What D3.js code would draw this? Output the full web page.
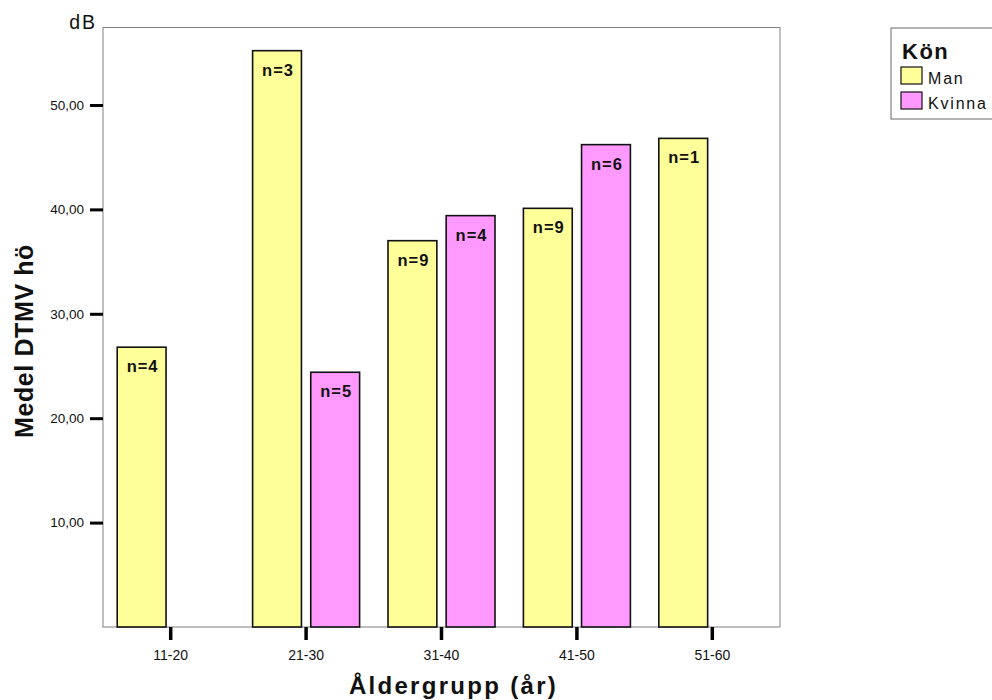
<!DOCTYPE html>
<html>
<head>
<meta charset="utf-8">
<script src="https://cdn.jsdelivr.net/npm/d3@7"></script>
<style>
  html, body { margin: 0; padding: 0; background: #fff; }
  svg { display: block; font-family: Arial, "Liberation Sans", sans-serif; }
</style>
</head>
<body>
<svg id="chart" width="992" height="700"></svg>
<script>
const categories = ["11-20", "21-30", "31-40", "41-50", "51-60"];
const seriesNames = ["Man", "Kvinna"];
const manValues = [26.8, 55.2, 37.0, 40.1, 46.8];
const kvinnaValues = [null, 24.4, 39.4, 46.2, null];
const manN = [4, 3, 9, 9, 1];
const kvinnaN = [null, 5, 4, 6, null];
const yTicks = [10, 20, 30, 40, 50];
const yTickLabels = ["10,00", "20,00", "30,00", "40,00", "50,00"];
const colors = ["#FFFF99", "#FF99FF"];

const svg = d3.select("#chart");
const plot = { left: 103, right: 780, top: 27.5, bottom: 627 };

const x = d3.scaleBand().domain(categories).range([plot.left, plot.right]).padding(0);
const xs = d3.scaleBand().domain(seriesNames).range([-53.5, 53.5]).paddingInner(0.16);
const y = d3.scaleLinear().domain([0, 57.42]).range([plot.bottom, plot.top]);

// plot frame
svg.append("rect")
  .attr("x", plot.left).attr("y", plot.top)
  .attr("width", plot.right - plot.left).attr("height", plot.bottom - plot.top)
  .attr("fill", "none").attr("stroke", "#808080").attr("stroke-width", 1);

// bars
const rows = [];
categories.forEach((c, i) => {
  [manValues[i], kvinnaValues[i]].forEach((v, j) => {
    if (v != null) rows.push({ cat: c, ser: seriesNames[j], v, n: j === 0 ? manN[i] : kvinnaN[i], color: colors[j] });
  });
});

const g = svg.append("g");
g.selectAll("rect.bar").data(rows).enter().append("rect")
  .attr("class", "bar")
  .attr("x", d => x(d.cat) + x.bandwidth() / 2 + xs(d.ser))
  .attr("y", d => y(d.v))
  .attr("width", xs.bandwidth())
  .attr("height", d => y(0) - y(d.v))
  .attr("fill", d => d.color)
  .attr("stroke", "#111").attr("stroke-width", 1.6);

g.selectAll("text.nlab").data(rows).enter().append("text")
  .attr("class", "nlab")
  .attr("x", d => x(d.cat) + x.bandwidth() / 2 + xs(d.ser) + xs.bandwidth() / 2 + 1)
  .attr("y", d => y(d.v) + 25)
  .attr("text-anchor", "middle")
  .attr("font-size", 16.5).attr("font-weight", "bold")
  .attr("letter-spacing", 1)
  .attr("fill", "#111")
  .text(d => "n=" + d.n);

// y axis
const yAxis = d3.axisLeft(y).tickValues(yTicks)
  .tickFormat((d, i) => yTickLabels[i]).tickSize(13).tickPadding(6);
const ya = svg.append("g").attr("transform", `translate(${plot.left},0)`).call(yAxis);
ya.select(".domain").remove();
ya.selectAll(".tick line").attr("stroke", "#000").attr("stroke-width", 3);
ya.selectAll(".tick text").attr("font-size", 13.5).attr("fill", "#111")
  .attr("font-family", "Arial, 'Liberation Sans', sans-serif");

// x axis
const xAxis = d3.axisBottom(x).tickSize(13).tickPadding(10);
const xa = svg.append("g").attr("transform", `translate(0,${plot.bottom})`).call(xAxis);
xa.select(".domain").remove();
xa.selectAll(".tick line").attr("stroke", "#000").attr("stroke-width", 3.5);
xa.selectAll(".tick text").attr("font-size", 14).attr("fill", "#111")
  .attr("font-family", "Arial, 'Liberation Sans', sans-serif");

// unit label
svg.append("text").attr("x", 97).attr("y", 29).attr("text-anchor", "end")
  .attr("font-size", 19.5).attr("letter-spacing", 2).attr("fill", "#111").text("dB");

// axis titles
svg.append("text").attr("x", (plot.left + plot.right) / 2 + 12).attr("y", 694)
  .attr("text-anchor", "middle").attr("font-size", 24).attr("font-weight", "bold")
  .attr("letter-spacing", 2.3).attr("fill", "#111").text("Åldergrupp (år)");

svg.append("text").attr("transform", "translate(33,341) rotate(-90)")
  .attr("text-anchor", "middle").attr("font-size", 25).attr("font-weight", "bold")
  .attr("letter-spacing", 0.6).attr("fill", "#111").text("Medel DTMV hö");

// legend
const lg = svg.append("g");
lg.append("rect").attr("x", 891).attr("y", 28).attr("width", 110).attr("height", 91)
  .attr("fill", "#fff").attr("stroke", "#666").attr("stroke-width", 1);
lg.append("text").attr("x", 902).attr("y", 59).attr("font-size", 22).attr("font-weight", "bold")
  .attr("letter-spacing", 1.5).attr("fill", "#111").text("Kön");
seriesNames.forEach((s, i) => {
  lg.append("rect").attr("x", 901).attr("y", 67 + i * 25).attr("width", 21).attr("height", 17)
    .attr("fill", colors[i]).attr("stroke", "#111").attr("stroke-width", 1.2);
  lg.append("text").attr("x", 928).attr("y", 84 + i * 25).attr("font-size", 16)
    .attr("letter-spacing", 1.8).attr("fill", "#111").text(s);
});
</script>
</body>
</html>
